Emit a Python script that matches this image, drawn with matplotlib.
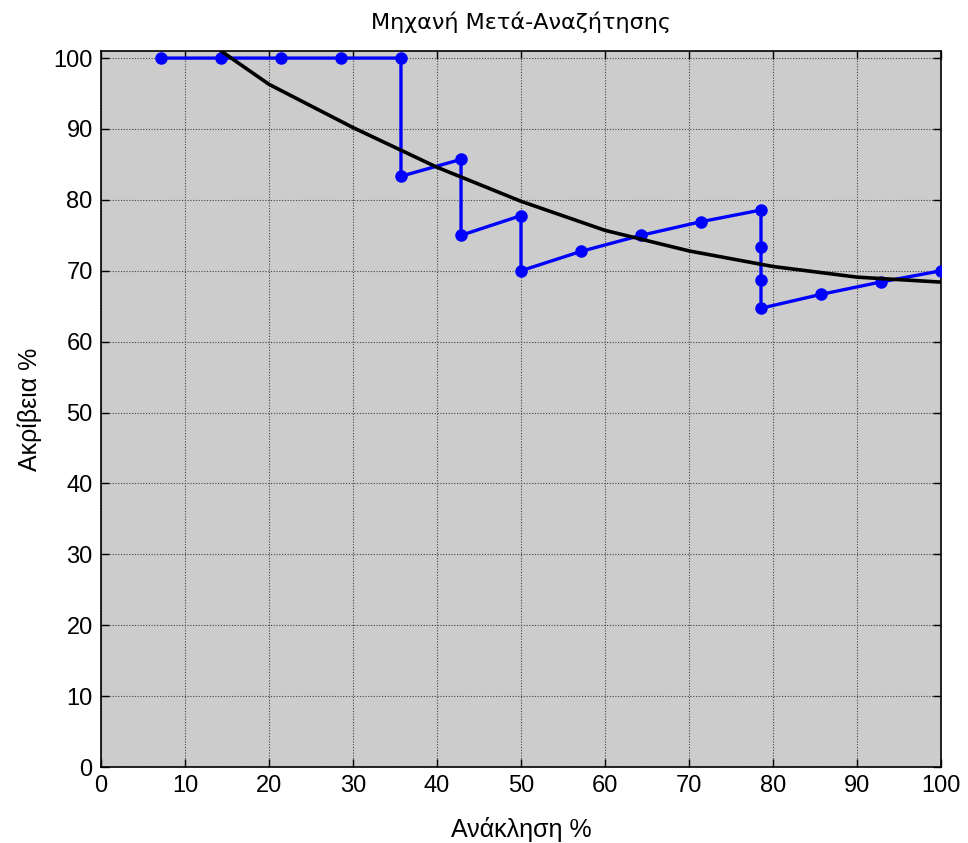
import matplotlib
matplotlib.use("Agg")
import matplotlib.pyplot as plt

# Blue precision-recall points
recall = [7.14, 14.29, 21.43, 28.57, 35.71, 35.71, 42.86, 42.86, 50.0, 50.0,
          57.14, 64.29, 71.43, 78.57, 78.57, 78.57, 78.57, 85.71, 92.86, 100.0]
precision = [100, 100, 100, 100, 100, 83.33, 85.71, 75.0, 77.78, 70.0,
             72.73, 75.0, 76.92, 78.57, 73.33, 68.75, 64.71, 66.67, 68.42, 70.0]

# Black fitted curve
fit_x = [14.29, 20, 30, 40, 50, 60, 70, 80, 90, 100]
fit_y = [101.0, 96.3, 90.2, 84.6, 79.8, 75.7, 72.8, 70.6, 69.1, 68.4]

xticks = list(range(0, 101, 10))
yticks = list(range(0, 101, 10))

fig = plt.figure(figsize=(9.68, 8.43), dpi=100)
ax = fig.add_axes([101/968, 1-767/843, 840/968, 716/843])
ax.set_facecolor("#cccccc")

ax.plot(recall, precision, color="#0000ff", lw=2.4, marker="o", ms=8, zorder=3)
ax.plot(fit_x, fit_y, color="black", lw=2.6, zorder=4)

ax.set_xlim(0, 100)
ax.set_ylim(0, 101)
ax.set_xticks(xticks)
ax.set_yticks(yticks)
ax.grid(True, color="#444444", linestyle=(0, (1, 1.5)), linewidth=0.8)
ax.set_axisbelow(True)
ax.tick_params(direction="in", length=6, width=1, top=True, right=True,
               labelsize=17, pad=6)
for lab in ax.get_xticklabels() + ax.get_yticklabels():
    lab.set_family("Liberation Sans")
for sp in ax.spines.values():
    sp.set_linewidth(1.2)

ax.set_xlabel("Ανάκληση %", fontsize=18, family="Liberation Sans", labelpad=14)
ax.set_ylabel("Ακρίβεια %", fontsize=18, family="Liberation Sans", labelpad=8)
ax.set_title("Μηχανή Μετά-Αναζήτησης", fontsize=16, family="DejaVu Sans", pad=16)

fig.savefig("out.png", dpi=100)
